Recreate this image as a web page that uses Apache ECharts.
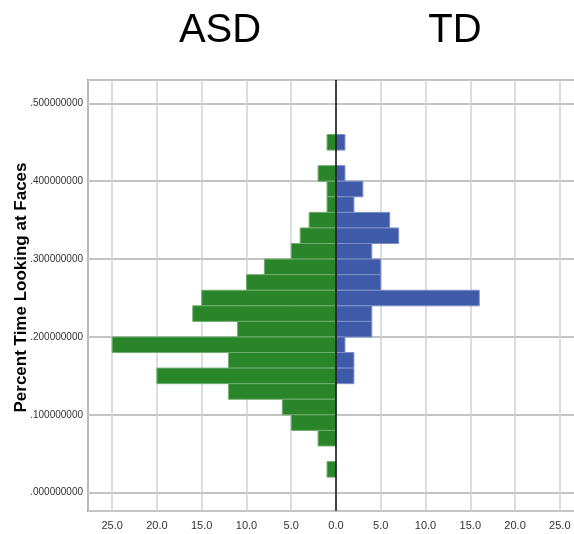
<!DOCTYPE html>
<html>
<head>
<meta charset="utf-8">
<script src="https://cdn.jsdelivr.net/npm/echarts@6/dist/echarts.min.js"></script>
<style>html,body{margin:0;padding:0;background:#fff;}#c{width:574px;height:534px;}</style>
</head>
<body>
<div id="c"></div>
<script>
// Bin lower bounds (bin width 0.02)
const binLower = [0.44, 0.42, 0.40, 0.38, 0.36, 0.34, 0.32, 0.30, 0.28, 0.26, 0.24, 0.22, 0.20, 0.18, 0.16, 0.14, 0.12, 0.10, 0.08, 0.06, 0.04, 0.02];
const binWidth = 0.02;
const asdCounts = [1, 0, 2, 1, 1, 3, 4, 5, 8, 10, 15, 16, 11, 25, 12, 20, 12, 6, 5, 2, 0, 1];
const tdCounts  = [1, 0, 1, 3, 2, 6, 7, 4, 5, 5, 16, 4, 4, 1, 2, 2, 0, 0, 0, 0, 0, 0];
const groupNames = ['ASD', 'TD'];
const yAxisTitle = 'Percent Time Looking at Faces';

function buildData(counts, sign) {
  const out = [];
  counts.forEach((c, i) => {
    if (c > 0) out.push([binLower[i], binLower[i] + binWidth, sign * c]);
  });
  return out;
}

function renderBar(fill, stroke) {
  return function (params, api) {
    const lo = api.value(0), hi = api.value(1), v = api.value(2);
    const p1 = api.coord([Math.min(0, v), hi]);
    const p2 = api.coord([Math.max(0, v), lo]);
    return {
      type: 'rect',
      shape: { x: p1[0], y: p1[1], width: p2[0] - p1[0], height: p2[1] - p1[1] },
      style: { fill: fill, stroke: stroke, lineWidth: 1 }
    };
  };
}

const narrow = '"Liberation Sans Narrow", "Arial Narrow", "Liberation Sans", Arial, sans-serif';
const chart = echarts.init(document.getElementById('c'), null, { renderer: 'canvas' });
chart.setOption({
  animation: false,
  backgroundColor: '#ffffff',
  title: [
    { text: groupNames[0], left: 215, top: 6, textAlign: 'center',
      textStyle: { fontFamily: '"Liberation Sans", Arial, sans-serif', fontSize: 40, fontWeight: 'normal', color: '#000' } },
    { text: groupNames[1], left: 450, top: 6, textAlign: 'center',
      textStyle: { fontFamily: '"Liberation Sans", Arial, sans-serif', fontSize: 40, fontWeight: 'normal', color: '#000' } }
  ],
  grid: {
    left: 88, top: 80, width: 496, height: 431,
    outerBoundsMode: 'none', containLabel: false,
    show: true, borderColor: '#4a4a4a', borderWidth: 1.5, backgroundColor: '#fff'
  },
  xAxis: {
    type: 'value', min: -27.7, max: 27.7, splitNumber: 11,
    axisLine: { show: false }, axisTick: { show: false },
    axisLabel: {
      margin: 9, fontSize: 11, fontFamily: narrow, color: '#333',
      showMinLabel: false, showMaxLabel: false,
      formatter: function (v) {
        const r = Math.round(v / 5) * 5;
        return Math.abs(v - r) < 1e-6 ? Math.abs(v).toFixed(1) : '';
      }
    },
    splitLine: { show: true, lineStyle: { color: '#d2d2d2', width: 1.5 } }
  },
  yAxis: {
    type: 'value', min: -0.0235, max: 0.530, splitNumber: 5,
    name: yAxisTitle, nameLocation: 'middle', nameGap: 58, nameMoveOverlap: false,
    nameTextStyle: { fontFamily: '"Liberation Sans", Arial, sans-serif', fontSize: 17, fontWeight: 'bold', color: '#000', padding: [0, 0, 0, 16] },
    axisLine: { show: false },
    axisTick: { show: true, length: 3, lineStyle: { color: '#c4c4c4', width: 2 } },
    axisLabel: {
      margin: 5, fontSize: 10, fontFamily: narrow, color: '#333',
      showMinLabel: false, showMaxLabel: false,
      formatter: function (v) {
        const r = Math.round(v / 0.1) * 0.1;
        if (Math.abs(v - r) > 1e-6) return '';
        return r.toFixed(9).replace(/^0/, '');
      }
    },
    splitLine: { show: true, lineStyle: { color: '#c4c4c4', width: 2 } }
  },
  series: [
    {
      name: groupNames[0], type: 'custom', renderItem: renderBar('#2a8429', '#6fae6d'),
      data: buildData(asdCounts, -1), encode: { x: 2, y: [0, 1] }, z: 3
    },
    {
      name: groupNames[1], type: 'custom', renderItem: renderBar('#3e5aa9', '#7d90c6'),
      data: buildData(tdCounts, 1), encode: { x: 2, y: [0, 1] }, z: 3,
      markLine: {
        silent: true, symbol: ['none', 'none'], label: { show: false },
        lineStyle: { color: '#111', width: 1.5, type: 'solid' },
        data: [{ xAxis: 0 }], z: 5
      }
    }
  ]
});
</script>
</body>
</html>
